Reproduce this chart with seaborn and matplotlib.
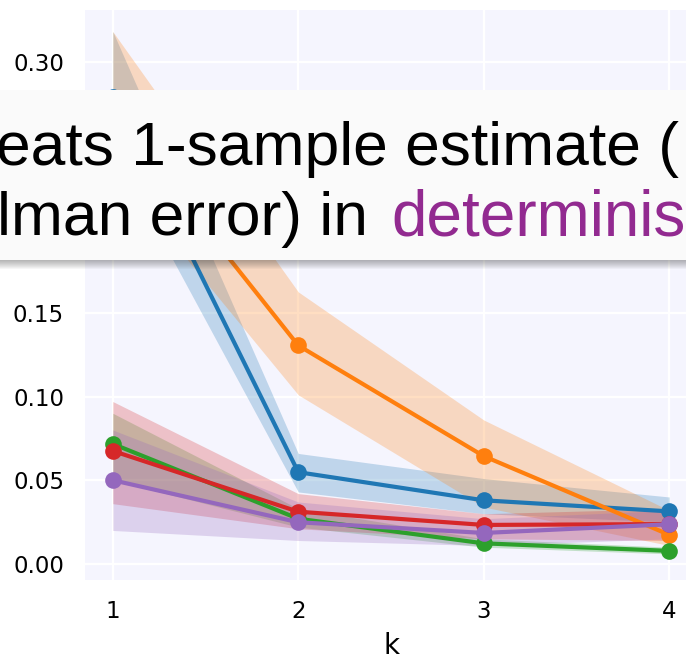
import numpy as np
import pandas as pd
import matplotlib
matplotlib.use("Agg")
import matplotlib.pyplot as plt
from matplotlib.patches import Rectangle
import seaborn as sns

# ---------------- data ----------------
k_values = [1, 2, 3, 4]
series_names = ["s1", "s2", "s3", "s4", "s5"]
series_colors = ["#1f77b4", "#ff7f0e", "#2ca02c", "#d62728", "#9467bd"]

s1_mean = [0.279, 0.0548, 0.0380, 0.0314]
s1_low = [0.248, 0.043, 0.030, 0.025]
s1_high = [0.318, 0.066, 0.051, 0.040]

s2_mean = [0.270, 0.1305, 0.0644, 0.0174]
s2_low = [0.236, 0.101, 0.034, 0.011]
s2_high = [0.318, 0.1625, 0.086, 0.032]

s3_mean = [0.0717, 0.0270, 0.0123, 0.0078]
s3_low = [0.050, 0.022, 0.010, 0.006]
s3_high = [0.090, 0.033, 0.015, 0.010]

s4_mean = [0.0675, 0.0312, 0.0233, 0.0238]
s4_low = [0.036, 0.021, 0.015, 0.014]
s4_high = [0.097, 0.042, 0.030, 0.033]

s5_mean = [0.0500, 0.0249, 0.0185, 0.0237]
s5_low = [0.020, 0.014, 0.011, 0.015]
s5_high = [0.080, 0.037, 0.027, 0.032]

y_ticks = [0.00, 0.05, 0.10, 0.15, 0.20, 0.25, 0.30]
x_label = "k"
line1_text = "eats 1-sample estimate ("
line2_black = "lman error) in "
line2_purple = "determinis"

means = [s1_mean, s2_mean, s3_mean, s4_mean, s5_mean]
lows = [s1_low, s2_low, s3_low, s4_low, s5_low]
highs = [s1_high, s2_high, s3_high, s4_high, s5_high]

rows = []
for name, m in zip(series_names, means):
    for kv, v in zip(k_values, m):
        rows.append({"k": kv, "value": v, "series": name})
df = pd.DataFrame(rows)

# ---------------- style ----------------
sns.set_theme(style="darkgrid", rc={
    "axes.facecolor": "#F5F5FE",
    "grid.color": "white",
    "grid.linewidth": 1.6,
    "text.color": "black",
    "axes.labelcolor": "black",
    "xtick.color": "black",
    "ytick.color": "black",
})
plt.rcParams["font.family"] = ["DejaVu Sans"]

W, H = 686, 663
fig = plt.figure(figsize=(W / 100, H / 100), dpi=100)
ax = fig.add_axes([85 / W, 83 / H, 612 / W, 570 / H])

sns.lineplot(data=df, x="k", y="value", hue="series", palette=series_colors,
             marker="o", markersize=12, markeredgewidth=0, linewidth=3,
             errorbar=None, legend=False, ax=ax)
for lo, hi, c in zip(lows, highs, series_colors):
    ax.fill_between(k_values, lo, hi, color=c, alpha=0.25, linewidth=0)

ax.set_xlim(0.85, 4.15)
ax.set_ylim(-0.0096, 0.3309)
ax.set_xticks(k_values)
ax.set_xticklabels([str(v) for v in k_values])
ax.set_yticks(y_ticks)
ax.set_yticklabels([f"{v:.2f}" for v in y_ticks])
ax.set_xlabel(x_label, fontsize=20, labelpad=7)
ax.set_ylabel("")
for sp in ax.spines.values():
    sp.set_visible(False)
ax.spines["left"].set_position(("outward", 2))
ax.spines["bottom"].set_position(("outward", 3))
ax.tick_params(axis="y", length=5.6, width=1.5, direction="out", labelsize=16.5, pad=7.5)
ax.tick_params(axis="x", length=5.2, width=1.5, direction="out", labelsize=16.5, pad=6)

# ---------------- overlay caption box ----------------
box_top, box_bot = 90, 260
def fy(px):
    return 1 - px / H

for d in range(1, 10):
    fig.patches.append(Rectangle((-0.05, fy(box_bot + d)), 1.1, d / H,
                                 transform=fig.transFigure, facecolor="#303030",
                                 alpha=0.045, edgecolor="none", zorder=5))
fig.patches.append(Rectangle((-0.05, fy(box_bot)), 1.1, (box_bot - box_top) / H,
                             transform=fig.transFigure, facecolor="#FAFAFA",
                             edgecolor="none", zorder=6))

fs = 44.9
fig.text(-4.5 / W, fy(165), line1_text, fontsize=fs, family="Liberation Sans",
         color="black", ha="left", va="baseline", zorder=7)
fig.text(-3 / W, fy(235), line2_black, fontsize=fs, family="Liberation Sans",
         color="black", ha="left", va="baseline", zorder=7)
fig.text(391 / W, fy(235), line2_purple, fontsize=46, family="Liberation Sans",
         color="#922A90", ha="left", va="baseline", zorder=7)

fig.savefig("out.png", dpi=100)
